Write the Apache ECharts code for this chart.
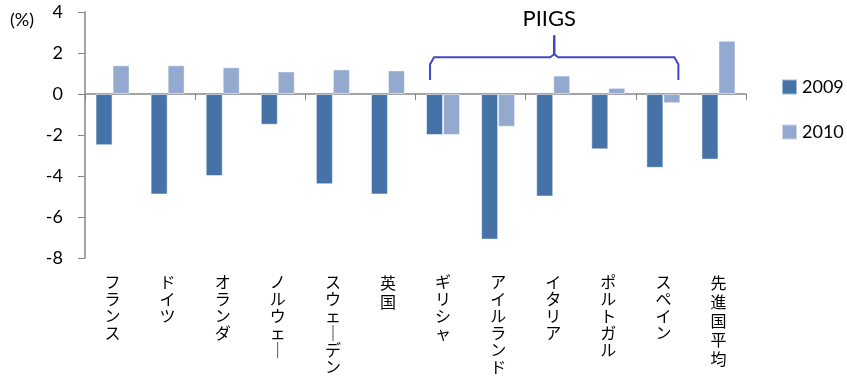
<!DOCTYPE html>
<html>
<head>
<meta charset="utf-8">
<script src="https://cdn.jsdelivr.net/npm/echarts@6/dist/echarts.min.js"></script>
<style>
  html, body { margin: 0; padding: 0; background: #fff; }
  #chart { width: 847px; height: 381px; }
</style>
</head>
<body>
<div id="chart"></div>
<script>
// 財政収支の対GDP比 (%)
const categories = ['フランス', 'ドイツ', 'オランダ', 'ノルウェー', 'スウェーデン', '英国',
  'ギリシャ', 'アイルランド', 'イタリア', 'ポルトガル', 'スペイン', '先進国平均'];
const values2009 = [-2.5, -4.9, -4.0, -1.5, -4.4, -4.9, -2.0, -7.1, -5.0, -2.7, -3.6, -3.2];
const values2010 = [1.4, 1.4, 1.3, 1.1, 1.2, 1.15, -2.0, -1.6, 0.9, 0.3, -0.45, 2.6];
const seriesNames = ['2009', '2010'];
const yTicks = [-8, -6, -4, -2, 0, 2, 4];
// PIIGS brace spans from ギリシャ to スペイン
const groupLabel = 'PIIGS';
const groupFirst = 'ギリシャ';
const groupLast = 'スペイン';

const axisGray = '#868686';
const fontLatin = 'Lato, "Open Sans", sans-serif';
const fontCJK = '"Noto Sans CJK JP", sans-serif';
const barW = 17;

// stack the characters for vertical (tategaki) labels; kanji get a taller line
function verticalText(s) {
  const stacked = s.replace(/ー/g, '｜').split('').join('\n');
  return /[\u4e00-\u9fff]/.test(s) ? '{k|' + stacked + '}' : '{c|' + stacked + '}';
}

const chart = echarts.init(document.getElementById('chart'));
chart.setOption({
  animation: false,
  grid: { left: 85, right: 101, top: 12, bottom: 123, containLabel: false },
  legend: {
    orient: 'vertical',
    left: 781,
    top: 78,
    padding: 0,
    itemWidth: 15,
    itemHeight: 15,
    itemGap: 27,
    icon: 'rect',
    textStyle: { fontFamily: fontLatin, fontSize: 18, color: '#000' },
    data: seriesNames
  },
  xAxis: [{
    type: 'category',
    data: categories,
    axisLine: { onZero: true, lineStyle: { color: axisGray, width: 1.5 } },
    axisTick: { show: true, length: 6, alignWithLabel: false, lineStyle: { color: axisGray } },
    axisLabel: { show: false }
  }, {
    type: 'category',
    data: categories,
    position: 'bottom',
    axisLine: { show: false, onZero: false },
    axisTick: { show: false },
    axisLabel: {
      margin: 15,
      interval: 0,
      color: '#000',
      align: 'center',
      verticalAlign: 'top',
      formatter: verticalText,
      rich: {
        c: { fontFamily: fontCJK, fontSize: 16, lineHeight: 17, color: '#000' },
        k: { fontFamily: fontCJK, fontSize: 16, lineHeight: 19, color: '#000' }
      }
    }
  }],
  yAxis: {
    type: 'value',
    min: yTicks[0],
    max: yTicks[yTicks.length - 1],
    interval: 2,
    splitLine: { show: false },
    axisLine: { show: true, lineStyle: { color: axisGray, width: 1.5 } },
    axisTick: { show: true, length: 7, lineStyle: { color: axisGray } },
    axisLabel: { margin: 22, fontFamily: fontLatin, fontSize: 18, color: '#000' }
  },
  series: [{
    name: seriesNames[0],
    type: 'bar',
    xAxisIndex: 0,
    data: values2009,
    barWidth: barW,
    barGap: '0%',
    itemStyle: { color: '#4572a7', borderColor: 'rgba(255,255,255,0.5)', borderWidth: 1 }
  }, {
    name: seriesNames[1],
    type: 'bar',
    xAxisIndex: 0,
    data: values2010,
    barWidth: barW,
    barGap: '0%',
    itemStyle: { color: '#93a9cf', borderColor: 'rgba(255,255,255,0.5)', borderWidth: 1 }
  }]
});

// overlay: (%) unit label, and the PIIGS brace positioned through the axes
function px(catIndex, value) {
  return chart.convertToPixel({ xAxisIndex: 0, yAxisIndex: 0 }, [catIndex, value]);
}
const i0 = categories.indexOf(groupFirst);
const i1 = categories.indexOf(groupLast);
const xL = px(i0, 0)[0] - barW + 4;
const xR = px(i1, 0)[0] + barW - 2;
const xM = (xL + xR) / 2;
const yEnd = px(i0, 0.68)[1];
const yCorner = px(i0, 1.6)[1];
const yBar = px(i0, 1.79)[1];
const yPeak = px(i0, 2.87)[1];
const yText = px(i0, 3.65)[1];

const braceColor = '#4646c4';
chart.setOption({
  graphic: [{
    type: 'text',
    left: 10,
    top: 11,
    style: { text: '(%)', fontFamily: fontLatin, fontSize: 18, fill: '#000' }
  }, {
    type: 'polyline',
    shape: {
      points: [[xL, yEnd], [xL, yCorner + 3], [xL + 4, yBar], [xM - 4, yBar], [xM, yBar - 3],
               [xM + 4, yBar], [xR - 4, yBar], [xR, yCorner + 3], [xR, yEnd]]
    },
    style: { stroke: braceColor, lineWidth: 2, fill: null }
  }, {
    type: 'line',
    shape: { x1: xM, y1: yBar - 3, x2: xM, y2: yPeak },
    style: { stroke: braceColor, lineWidth: 2.5 }
  }, {
    type: 'text',
    x: xM - 5,
    y: yText,
    style: { text: groupLabel, fontFamily: fontLatin, fontSize: 22, fill: '#000', align: 'center', verticalAlign: 'middle' }
  }]
});
</script>
</body>
</html>
